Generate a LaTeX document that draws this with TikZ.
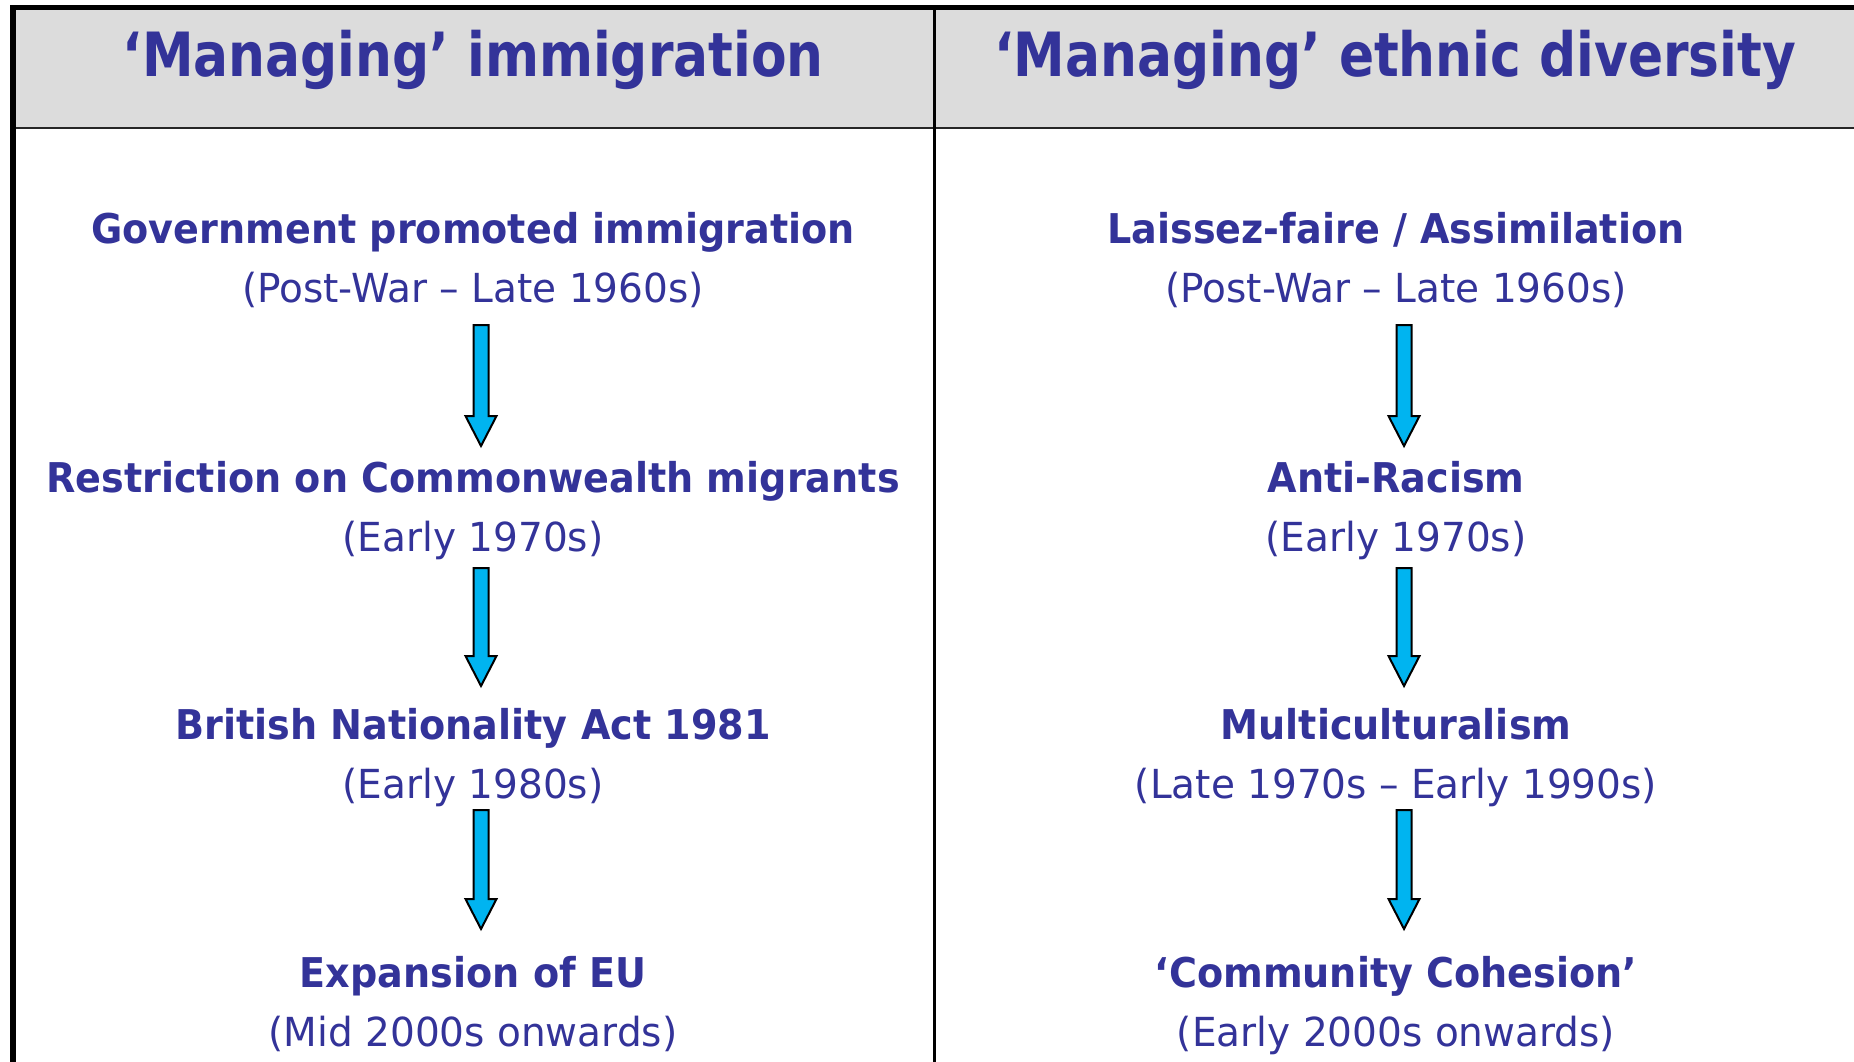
\documentclass[tikz,border=0pt]{standalone}
\usepackage{fontspec}
\setmainfont{DejaVu Sans}
\newfontfamily\titlef[FakeStretch=0.85]{DejaVu Sans Bold}
\newfontfamily\boldf[FakeStretch=0.93]{DejaVu Sans Bold}
\newfontfamily\regf[FakeStretch=0.975]{DejaVu Sans}
\definecolor{txt}{HTML}{333399}
\definecolor{hdr}{HTML}{DCDCDC}
\definecolor{arr}{HTML}{00B4F0}
\tikzset{
  title/.style={anchor=base, text=txt, inner sep=0pt, font=\titlef\fontsize{61}{61}\selectfont},
  head/.style={anchor=base, text=txt, inner sep=0pt, font=\boldf\fontsize{41}{41}\selectfont},
  sub/.style={anchor=base, text=txt, inner sep=0pt, font=\regf\fontsize{40}{40}\selectfont},
  blk/.style={fill=arr, draw=black, line width=2pt, line join=miter}
}
\newcommand{\blockarrow}[3]{% x, ytop, ybottom
  \draw[blk] (#1-7.5,#2) -- (#1+7.5,#2) -- (#1+7.5,#3-30) -- (#1+15.5,#3-30) -- (#1,#3) -- (#1-15.5,#3-30) -- (#1-7.5,#3-30) -- cycle;
}
\begin{document}
\begin{tikzpicture}[x=1pt,y=-1pt]
\useasboundingbox (0,0) rectangle (1854,1062);
% header band
\fill[hdr] (13,7) rectangle (1854,128);
\draw[line width=2pt, black!85] (13,128) -- (1854,128);
% borders
\draw[line width=5.5pt, black] (13,1062) -- (13,7.5) -- (1854,7.5);
\draw[line width=3pt, black] (934,7) -- (934,1062);
% titles
\node[title] (t1) at (473,77) {‘Managing’ immigration};
\node[title] (t2) at (1395,77) {‘Managing’ ethnic diversity};
% left column
\node[head] (a1) at (473,243) {Government promoted immigration};
\node[sub]  (a1s) at (473,302) {(Post-War – Late 1960s)};
\node[head] (a2) at (473,492) {Restriction on Commonwealth migrants};
\node[sub]  (a2s) at (473,551) {(Early 1970s)};
\node[head] (a3) at (473,739) {British Nationality Act 1981};
\node[sub]  (a3s) at (473,798) {(Early 1980s)};
\node[head] (a4) at (473,987) {Expansion of EU};
\node[sub]  (a4s) at (473,1046) {(Mid 2000s onwards)};
% right column
\node[head] (b1) at (1396,243) {Laissez-faire / Assimilation};
\node[sub]  (b1s) at (1396,302) {(Post-War – Late 1960s)};
\node[head] (b2) at (1396,492) {Anti-Racism};
\node[sub]  (b2s) at (1396,551) {(Early 1970s)};
\node[head] (b3) at (1396,739) {Multiculturalism};
\node[sub]  (b3s) at (1396,798) {(Late 1970s – Early 1990s)};
\node[head] (b4) at (1396,987) {‘Community Cohesion’};
\node[sub]  (b4s) at (1396,1046) {(Early 2000s onwards)};
% arrows
\blockarrow{481}{325}{446}
\blockarrow{481}{568}{686}
\blockarrow{481}{810}{929}
\blockarrow{1404}{325}{446}
\blockarrow{1404}{568}{686}
\blockarrow{1404}{810}{929}
\end{tikzpicture}
\end{document}
